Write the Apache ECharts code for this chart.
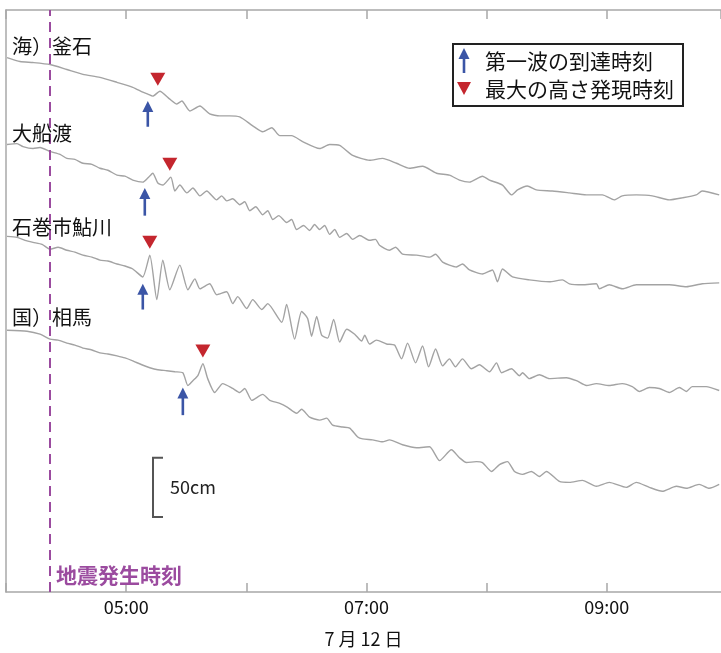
<!DOCTYPE html>
<html><head><meta charset="utf-8">
<script src="https://cdn.jsdelivr.net/npm/echarts@6/dist/echarts.min.js"></script>
<style>html,body{margin:0;padding:0;background:#fff}#c{width:721px;height:653px}</style>
</head><body><div id="c"></div>
<script>
// x: minutes after 04:00 (7/12), y: plotted sea level in cm (stations stacked with offsets)
const stations = ['海）釜石', '大船渡', '石巻市鮎川', '国）相馬'];
const tickMinutes = [60, 180, 300];
const tickLabels = ['05:00', '07:00', '09:00'];
const dateLabel = '7 月 12 日';
const quakeMinute = 22;
const quakeLabel = '地震発生時刻';
const legendArrival = '第一波の到達時刻';
const legendMax = '最大の高さ発現時刻';

const kamaishiT = [0.5,7,13.5,22,30.4,38.4,46.9,55.4,63.3,68.3,70.8,73.3,76.8,81.8,85.3,87.8,91.8,96.8,101.7,106.7,111.7,116.7,123.2,128.2,132.7,136.7,142.6,148.1,156.6,161.6,166.6,173.1,181.5,188,195,201.5,208,215,221.4,226.4,231.4,237.9,241.4,247.9,252.4,255.4,260.3,264.8,272.8,281.3,289.8,297.8,303.7,307.7,314.7,322.7,331.2,337.7,344.6,347.6,356.1];
const kamaishiV = [450.8,447.5,446.7,445,440.8,436.7,434.2,430,425.8,421.7,420,418.3,422.5,415.8,411.7,414.2,405.8,410,403.3,401.7,401.7,400.8,393.3,388.3,391.7,385,385,380,374.2,377.5,376.7,368.3,364.2,365.8,361.7,357.5,359.2,353.3,351.7,347.5,345.8,350.8,347.5,343.3,335,339.2,342.5,339.2,338.3,336.7,335,335,330.8,334.2,335,334.2,330.8,332.5,335,338.3,335];

const ofunatoT = [0.5,5.5,8.5,13.5,17,22,27,30.4,34.4,38.4,42.9,46.9,50.9,55.4,59.4,63.3,68.3,70.8,73.3,75.8,78.3,82.3,84.3,86.8,90.3,93.3,96.8,100.2,105.2,107.7,110.2,113.2,116.7,119.2,121.7,124.7,128.2,130.7,133.2,136.2,140.1,142.6,145.1,148.6,151.6,154.1,156.6,159.1,161.6,164.1,166.6,170.1,173.1,176.6,181.5,184.5,186.5,191.5,194.5,198,205,211.5,214.5,218,224.9,227.9,231.4,237.9,242.9,245.4,247.9,252.9,261.3,271.3,277.8,281.3,287.8,294.8,296.3,301.2,307.7,314.7,322.7,331.2,339.7,347.6,356.1];
const ofunatoV = [377.5,378.3,375.8,374.2,375,371.7,369.2,365.8,365,361.7,360.8,357.5,355.8,351.7,350.8,347.5,345.8,349.2,353.3,345,343.3,350,338.3,343.3,336.7,340.8,334.2,338.3,330.8,334.2,330,331.7,326.7,329.2,321.7,325,318.3,321.7,314.2,317.5,311.7,314.2,305.8,309.2,305,310,305.8,309.2,301.7,305.8,299.2,302.5,297.5,300.8,296.7,297.5,292.5,288.3,290.8,285,284.2,282.5,285,278.3,274.2,276.7,271.7,268.3,271.7,261.7,272.5,265.8,263.3,261.7,263.3,260,259.2,260,255.8,259.2,255.8,259.2,259.2,259.2,257.5,260,260.8];

const ayukawaT = [0.5,5.5,9.5,13.5,18,22,26,30.4,34.4,38.4,42.9,46.9,50.9,55.4,59.4,63.3,68.3,71.8,75.3,78.3,81.8,86.8,90.8,94.3,96.8,101.7,105.2,110.2,113.2,115.7,120.2,123.2,127.7,130.7,137.7,140.1,144.1,147.6,150.6,152.6,155.1,157.6,160.6,163.6,166.6,170.1,174.1,177.6,179.1,181.5,185,190,194,197.5,200.5,204.5,208,211,214.5,218,221.4,224.4,227.9,232.4,236.4,241.4,244.9,247.4,252.4,256.4,257.9,261.3,266.3,271.3,279.8,284.8,289.8,294.8,301.2,307.7,312.7,316.2,321.2,326.2,331.2,336.2,339.7,342.6,349.6,356.1];
const ayukawaV = [300,299.2,296.7,295,293.3,289.2,290.8,288.3,286.7,284.2,282.5,280,279.2,276.7,275,272.5,265.8,284.2,246.7,280,255,275.8,255,264.2,255.8,260,250.8,253.3,243.3,249.2,239.2,246.7,238.3,243.3,227.5,242.5,213.3,236.7,230.8,215.8,232.5,216.7,214.2,230,210.8,221.7,217.5,211.7,216.7,209.2,212.5,209.2,208.3,196.7,210,193.3,207.5,190,205,190.8,196.7,190,196.7,188.3,191.7,185.8,193.3,185,188.3,182.5,185,180,183.3,180,180.8,178.3,174.2,175.8,174.2,175.8,173.3,169.2,172.5,171.7,168.3,172.5,169.2,173.3,173.3,170];

const somaT = [0.5,10.5,17,22,26,30.4,34.4,38.4,42.9,46.9,50.9,55.4,59.4,63.3,67.8,71.8,75.8,80.3,84.3,88.3,90.8,93.3,95.8,98.3,100.7,104.2,108.2,113.2,116.7,119.2,122.7,128.2,131.7,136.7,140.6,145.1,147.6,151.6,156.6,160.1,163.1,168.1,171.6,175.6,178.1,183,188,191.5,198,205,211.5,216.5,222.4,226.4,229.9,234.9,237.9,242.4,246.4,250.4,253.9,257.9,262.3,266.3,269.8,276.3,281.3,287.8,294.8,301.2,309.7,314.7,321.2,327.7,334.7,339.7,346.1,351.1,356.1];
const somaV = [220.8,220,217.5,213.3,212.5,210,208.3,205.8,204.2,201.7,200.8,199.2,197.5,195,191.7,189.2,187.5,186.7,185.8,185,174.2,178.3,182.5,192.5,180,168.3,175.8,171.7,168.3,171.7,161.7,166.7,161.7,159.2,155.8,150.8,154.2,147.5,145,146.7,140.8,139.2,138.3,130.8,129.2,128.3,126.7,128.3,124.2,121.7,122.5,110.8,120,113.3,109.2,110,109.2,101.7,107.5,110,101.7,99.2,101.7,97.5,101.7,93.3,92.5,94.2,89.2,92.5,88.3,92.5,88.3,85,89.2,87.5,90.8,87.5,90.8];

// first-wave arrival: time, arrow tail level, arrow tip level
const arrivalT = [70.8, 69.3, 68.3, 88.3];
const arrivalTail = [392.5, 317.5, 238.3, 149.2];
const arrivalTip = [414.2, 340.8, 260, 172.5];
// maximum height: time, marker level
const maxT = [75.8, 81.8, 71.8, 98.3];
const maxV = [432.5, 360.8, 295, 203.3];
// 50 cm scale bar: time, bottom level, size
const scaleT = 73.4, scaleBottom = 63.3, scaleSize = 50, scaleText = '50cm';

const traces = [[kamaishiT, kamaishiV], [ofunatoT, ofunatoV], [ayukawaT, ayukawaV], [somaT, somaV]];
const pair = (t, v) => t.map((x, i) => [x, v[i]]);

const JP = '"Noto Sans CJK JP", "Noto Sans", sans-serif';
const NARROW = '"Liberation Sans Narrow", "Noto Sans CJK JP", sans-serif';
const GRAY = '#a3a3a3', BLUE = '#3b55a6', RED = '#c4262e', PURPLE = '#9b4b9f';

const chart = echarts.init(document.getElementById('c'), null, {renderer: 'canvas'});

const series = traces.map((tr, i) => ({
  type: 'line', name: stations[i], data: pair(tr[0], tr[1]), showSymbol: false,
  smooth: 0.2, lineStyle: {color: GRAY, width: 1.4}, silent: true, z: 2,
  markLine: i === 0 ? {
    silent: true, symbol: ['none', 'none'], animation: false,
    data: [{xAxis: quakeMinute}],
    lineStyle: {color: PURPLE, type: [10, 6], width: 2, opacity: 1},
    label: {show: false}
  } : undefined
}));

series.push({
  type: 'custom', name: 'arrival', z: 5,
  data: arrivalT.map((t, i) => [t, arrivalTail[i], arrivalTip[i]]),
  renderItem: function (params, api) {
    const p0 = api.coord([api.value(0), api.value(1)]);
    const p1 = api.coord([api.value(0), api.value(2)]);
    const head = 11, hw = 5.5;
    return {type: 'group', children: [
      {type: 'line', shape: {x1: p0[0], y1: p0[1], x2: p1[0], y2: p1[1] + head - 1}, style: {stroke: BLUE, lineWidth: 2.6}},
      {type: 'polygon', shape: {points: [[p1[0], p1[1]], [p1[0] - hw, p1[1] + head], [p1[0] + hw, p1[1] + head]]}, style: {fill: BLUE}}
    ]};
  }
});

series.push({
  type: 'scatter', name: 'max', z: 5, data: pair(maxT, maxV),
  symbol: 'triangle', symbolRotate: 180, symbolSize: [15, 13],
  itemStyle: {color: RED, opacity: 1}, silent: true
});

series.push({
  type: 'custom', name: 'scale', z: 5,
  data: [[scaleT, scaleBottom, scaleBottom + scaleSize]],
  renderItem: function (params, api) {
    const b = api.coord([api.value(0), api.value(1)]);
    const t = api.coord([api.value(0), api.value(2)]);
    return {type: 'group', children: [
      {type: 'polyline', shape: {points: [[b[0] + 10, t[1]], [b[0], t[1]], [b[0], b[1]], [b[0] + 10, b[1]]]}, style: {stroke: '#555', lineWidth: 2, fill: null}},
      {type: 'text', x: b[0] + 17, y: (b[1] + t[1]) / 2, style: {text: scaleText, font: '18px ' + NARROW, fill: '#222', align: 'left', verticalAlign: 'middle'}}
    ]};
  }
});

const labelY = [46, 133, 227, 317];
const graphics = stations.map((s, i) => ({
  type: 'text', x: 12, y: labelY[i], z: 10,
  style: {text: s, font: '20px ' + JP, fill: '#111', align: 'left', verticalAlign: 'middle'}
}));
graphics.push(
  {type: 'text', x: 56, y: 575, z: 10, style: {text: quakeLabel, font: 'bold 21px ' + JP, fill: PURPLE, align: 'left', verticalAlign: 'middle'}},
  {type: 'rect', z: 10, shape: {x: 453, y: 44, width: 230, height: 62}, style: {fill: '#fff', stroke: '#222', lineWidth: 2}},
  {type: 'line', z: 11, shape: {x1: 464, y1: 73, x2: 464, y2: 57}, style: {stroke: BLUE, lineWidth: 2.6}},
  {type: 'polygon', z: 11, shape: {points: [[464, 48], [458.5, 59], [469.5, 59]]}, style: {fill: BLUE}},
  {type: 'polygon', z: 11, shape: {points: [[457, 82], [471, 82], [464, 95]]}, style: {fill: RED}},
  {type: 'text', x: 485, y: 61, z: 11, style: {text: legendArrival, font: '21px ' + JP, fill: '#111', align: 'left', verticalAlign: 'middle'}},
  {type: 'text', x: 485, y: 89, z: 11, style: {text: legendMax, font: '21px ' + JP, fill: '#111', align: 'left', verticalAlign: 'middle'}}
);

const axisCommon = {
  type: 'value', min: 0, max: 357, interval: 60,
  splitLine: {show: false},
  axisLine: {show: true, lineStyle: {color: '#a8a8a8', width: 1.5}},
  axisTick: {show: true, inside: true, length: 9, lineStyle: {color: '#a8a8a8', width: 1.5}}
};

chart.setOption({
  animation: false,
  backgroundColor: '#fff',
  grid: {left: 6, right: 0, top: 10, bottom: 54, containLabel: false},
  xAxis: [
    Object.assign({}, axisCommon, {
      position: 'bottom',
      name: dateLabel, nameLocation: 'middle', nameGap: 38,
      nameTextStyle: {fontFamily: JP, fontSize: 18, color: '#111'},
      axisLabel: {
        show: true, margin: 6, fontFamily: NARROW, fontSize: 18, color: '#111',
        showMaxLabel: false,
        formatter: function (v) { const k = tickMinutes.indexOf(v); return k >= 0 ? tickLabels[k] : ''; }
      }
    }),
    Object.assign({}, axisCommon, {position: 'top', axisLabel: {show: false}})
  ],
  yAxis: {
    type: 'value', min: 0, max: 491,
    axisLine: {show: true, lineStyle: {color: '#a8a8a8', width: 1.5}},
    axisTick: {show: false}, axisLabel: {show: false}, splitLine: {show: false}
  },
  series: series,
  graphic: graphics
});
</script>
</body></html>
